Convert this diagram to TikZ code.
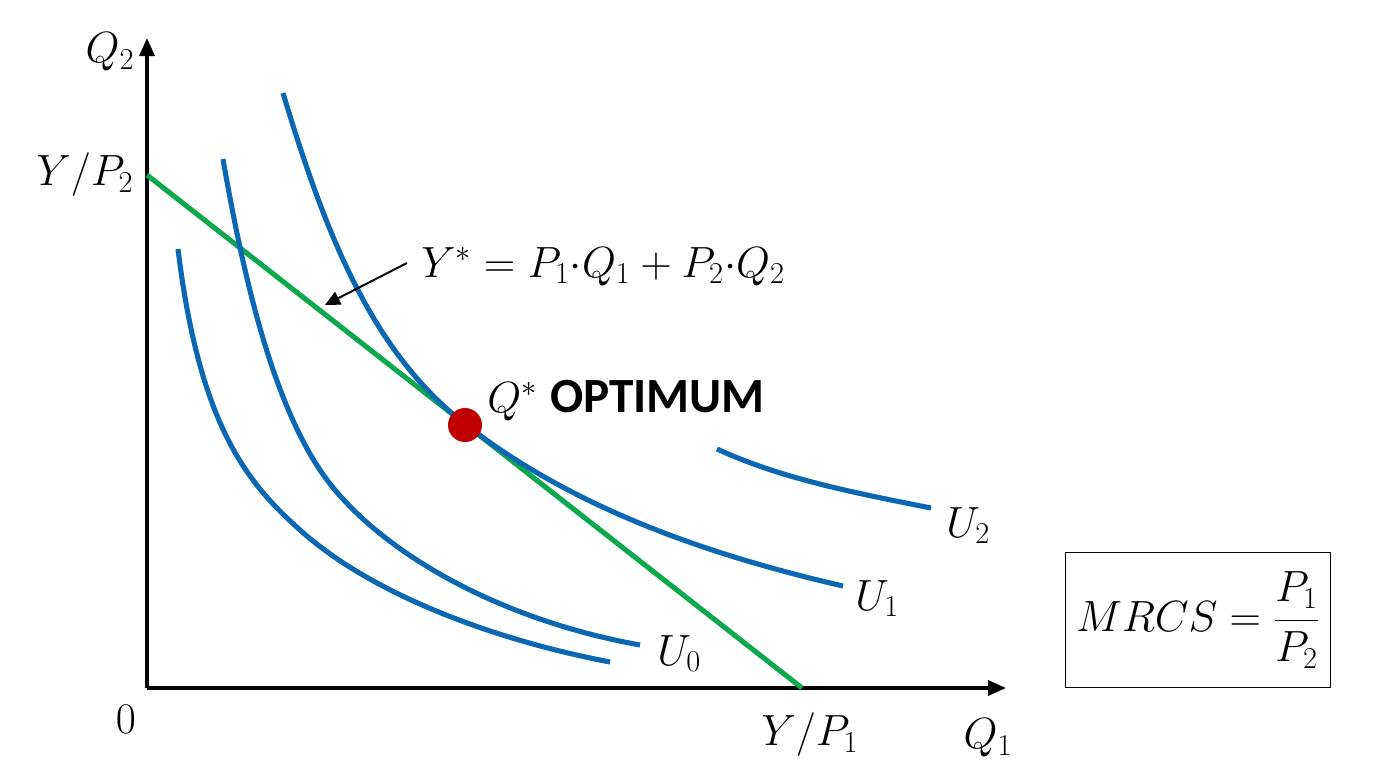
\documentclass[tikz,border=0pt]{standalone}
\usepackage{amsmath}
\usepackage{fontspec}
\usetikzlibrary{arrows.meta, positioning}
\newfontfamily\labelsans{Carlito}
\definecolor{curveblue}{HTML}{0B67B2}
\definecolor{budgetgreen}{HTML}{0DA84E}
\definecolor{optred}{HTML}{C00000}

\begin{document}
\begin{tikzpicture}[
    x=0.02cm, y=-0.02cm,
    font=\fontsize{24}{28}\selectfont,
    axis/.style={line width=2pt, -{Triangle[length=0.36cm, width=0.3cm]}},
    indiff/.style={line width=2.9pt, curveblue},
    budget/.style={line width=2.9pt, budgetgreen},
    pointer/.style={line width=1.1pt, -{Triangle[length=0.3cm, width=0.28cm]}},
    optdot/.style={circle, fill=optred, inner sep=0pt, minimum size=0.68cm}
]
    \useasboundingbox (0,0) rectangle (1376,768);

    % Coordinates
    \coordinate (origin) at (147, 688);
    \coordinate (ytip)   at (147, 38);
    \coordinate (xtip)   at (1006, 688);
    \coordinate (yint)   at (147, 175);
    \coordinate (xint)   at (802, 688);
    \coordinate (onbudget) at (325, 305);

    % Axes
    \draw[axis] (origin) -- (ytip);
    \draw[axis] (origin) -- (xtip);

    % Budget line
    \draw[budget] (yint) -- (xint);

    % Indifference curves
    \draw[indiff] (178,249) .. controls (200,430) and (250,485) .. (300,530)
                            .. controls (370,593) and (490,639) .. (610,662);
    \draw[indiff] (223,159) .. controls (242,269) and (270,395) .. (320,470)
                            .. controls (370,545) and (490,618) .. (640,645)
                            coordinate (endU0);
    \draw[indiff] (283,93)  .. controls (328,243) and (375,354) .. (465,424)
                            .. controls (575,510) and (713,556) .. (843,586)
                            coordinate (endU1);
    \draw[indiff] (717,449) .. controls (780,478) and (850,492) .. (931,508)
                            coordinate (endU2);

    % Optimum
    \node[optdot] (opt) at (465, 425) {};
    \node[anchor=base west, inner sep=0pt] (optlbl) at (487, 412)
        {$Q^{*}$ {\labelsans\bfseries\fontsize{28}{30}\selectfont OPTIMUM}};

    % Budget equation and pointer
    \node[anchor=base west, inner sep=0pt] (eqn) at (421, 277)
        {$Y^{*} = P_1{\cdot}Q_1 + P_2{\cdot}Q_2$};
    \draw[pointer] (407, 263) -- (onbudget);

    % Curve labels
    \node[anchor=base west, inner sep=0pt] (lblU0) at (657, 665) {$U_0$};
    \node[anchor=base west, inner sep=0pt] (lblU1) at (855, 610) {$U_1$};
    \node[anchor=base west, inner sep=0pt] (lblU2) at (946, 537) {$U_2$};

    % Axis labels
    \node[inner sep=0pt] (q2lbl)  at (110, 52)  {$Q_2$};
    \node[inner sep=0pt] (yp2lbl) at (85, 175)  {$Y/P_2$};
    \node[inner sep=0pt] (zero)   at (126, 719) {$0$};
    \node[inner sep=0pt] (yp1lbl) at (810, 735) {$Y/P_1$};
    \node[inner sep=0pt] (q1lbl)  at (988, 738) {$Q_1$};

    % MRCS box
    \node[draw, line width=0.9pt, minimum width=5.3cm, minimum height=2.7cm]
        (mrcs) at (1198, 620) {$MRCS = \dfrac{P_1}{P_2}$};

\end{tikzpicture}
\end{document}
